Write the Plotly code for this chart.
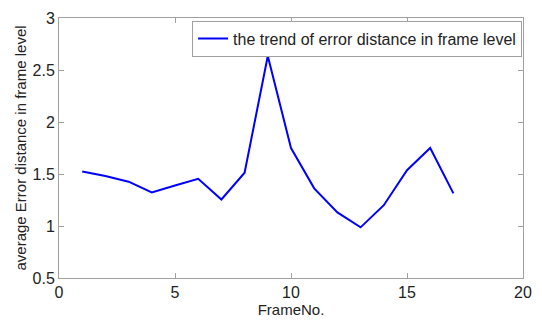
import plotly.graph_objects as go

frames = list(range(1, 18))
error_distance = [1.524, 1.48, 1.426, 1.323, 1.39, 1.454, 1.255, 1.512, 2.634,
                  1.75, 1.362, 1.131, 0.987, 1.2, 1.536, 1.75, 1.314]
x_ticks = [0, 5, 10, 15, 20]
y_ticks = [0.5, 1, 1.5, 2, 2.5, 3]
y_tick_labels = ["0.5", "1", "1.5", "2", "2.5", "3"]

fig = go.Figure()
fig.add_trace(go.Scatter(
    x=frames, y=error_distance, mode="lines",
    line=dict(color="#0000ff", width=2),
    name="the trend of error distance in frame level",
))

axis_common = dict(
    showgrid=False, zeroline=False, showline=True, linecolor="#a0a0a0",
    linewidth=1, mirror="ticks", ticks="inside", ticklen=5, tickcolor="#a0a0a0",
    tickfont=dict(family="Liberation Sans, Arial", size=16, color="#222222"),
)

fig.update_layout(
    width=542, height=322,
    margin=dict(l=59, r=15, t=10, b=39),
    paper_bgcolor="white", plot_bgcolor="white",
    font=dict(family="Liberation Sans, Arial", size=15, color="#222222"),
    showlegend=True,
    legend=dict(
        x=0.998, y=0.99, xanchor="right", yanchor="top",
        bordercolor="#a0a0a0", borderwidth=1, bgcolor="white",
        font=dict(size=16, color="#222222"), itemwidth=30,
        tracegroupgap=0,
    ),
    xaxis=dict(range=[0, 20], tickvals=x_ticks, ticktext=[str(v) for v in x_ticks],
               title=dict(text="FrameNo.", standoff=0, font=dict(size=15)), **axis_common),
    yaxis=dict(range=[0.5, 3], tickvals=y_ticks, ticktext=y_tick_labels,
               title=dict(text="average Error distance in frame level", standoff=2, font=dict(size=15)),
               **axis_common),
)

fig.write_html("out.html")
